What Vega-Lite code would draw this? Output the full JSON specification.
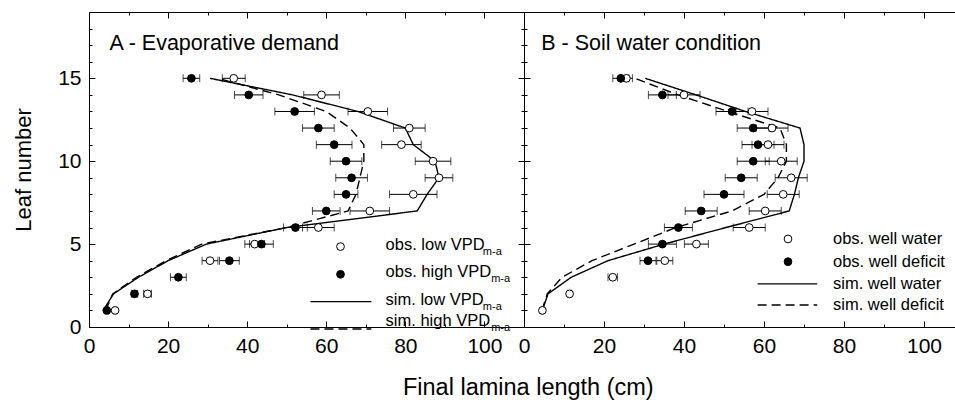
{
  "$schema": "https://vega.github.io/schema/vega-lite/v6.json",
  "background": "white",
  "padding": {"left": 12, "top": 11, "right": 0, "bottom": 5},
  "spacing": 0,
  "bounds": "flush",
  "title": {"text": "Final lamina length (cm)", "orient": "bottom", "anchor": "middle", "dx": 44, "fontSize": 23.5, "fontWeight": "normal", "font": "Liberation Sans", "color": "black", "offset": 20},
  "config": {
    "view": {"stroke": null},
    "font": "Liberation Sans",
    "axis": {"domainColor": "black", "tickColor": "black", "labelColor": "black", "titleColor": "black", "grid": false, "labelFont": "Liberation Sans", "labelFontSize": 21, "titleFont": "Liberation Sans", "titleFontSize": 22, "titleFontWeight": "normal", "tickWidth": 1, "domainWidth": 1, "labelFlush": false}
  },
  "datasets": {
    "obs": [
      {"panel": "A", "treat": "low VPD", "leaf": 15, "x": 36.6, "err": 2.9},
      {"panel": "A", "treat": "low VPD", "leaf": 14, "x": 58.8, "err": 4.5},
      {"panel": "A", "treat": "low VPD", "leaf": 13, "x": 70.5, "err": 5},
      {"panel": "A", "treat": "low VPD", "leaf": 12, "x": 81, "err": 4},
      {"panel": "A", "treat": "low VPD", "leaf": 11, "x": 79, "err": 5},
      {"panel": "A", "treat": "low VPD", "leaf": 10, "x": 87, "err": 4.5},
      {"panel": "A", "treat": "low VPD", "leaf": 9, "x": 88.5, "err": 3.5},
      {"panel": "A", "treat": "low VPD", "leaf": 8, "x": 82, "err": 6},
      {"panel": "A", "treat": "low VPD", "leaf": 7, "x": 71, "err": 5},
      {"panel": "A", "treat": "low VPD", "leaf": 6, "x": 58, "err": 4},
      {"panel": "A", "treat": "low VPD", "leaf": 5, "x": 41.9, "err": 2.5},
      {"panel": "A", "treat": "low VPD", "leaf": 4, "x": 30.6, "err": 2},
      {"panel": "A", "treat": "low VPD", "leaf": 2, "x": 14.8, "err": 1},
      {"panel": "A", "treat": "low VPD", "leaf": 1, "x": 6.6, "err": 0.4},
      {"panel": "A", "treat": "high VPD", "leaf": 15, "x": 25.9, "err": 2.1},
      {"panel": "A", "treat": "high VPD", "leaf": 14, "x": 40.4, "err": 3.6},
      {"panel": "A", "treat": "high VPD", "leaf": 13, "x": 52, "err": 5},
      {"panel": "A", "treat": "high VPD", "leaf": 12, "x": 58, "err": 4},
      {"panel": "A", "treat": "high VPD", "leaf": 11, "x": 62, "err": 4.5},
      {"panel": "A", "treat": "high VPD", "leaf": 10, "x": 65, "err": 4},
      {"panel": "A", "treat": "high VPD", "leaf": 9, "x": 66.4, "err": 4},
      {"panel": "A", "treat": "high VPD", "leaf": 8, "x": 65, "err": 3},
      {"panel": "A", "treat": "high VPD", "leaf": 7, "x": 60, "err": 3.5},
      {"panel": "A", "treat": "high VPD", "leaf": 6, "x": 52.2, "err": 3},
      {"panel": "A", "treat": "high VPD", "leaf": 5, "x": 43.6, "err": 3},
      {"panel": "A", "treat": "high VPD", "leaf": 4, "x": 35.5, "err": 2.5},
      {"panel": "A", "treat": "high VPD", "leaf": 3, "x": 22.6, "err": 2},
      {"panel": "A", "treat": "high VPD", "leaf": 2, "x": 11.5, "err": 0.8},
      {"panel": "A", "treat": "high VPD", "leaf": 1, "x": 4.5, "err": 0.4},
      {"panel": "B", "treat": "well water", "leaf": 15, "x": 25.6, "err": 1.5},
      {"panel": "B", "treat": "well water", "leaf": 14, "x": 40, "err": 4},
      {"panel": "B", "treat": "well water", "leaf": 13, "x": 57, "err": 4},
      {"panel": "B", "treat": "well water", "leaf": 12, "x": 62, "err": 4},
      {"panel": "B", "treat": "well water", "leaf": 11, "x": 61, "err": 4},
      {"panel": "B", "treat": "well water", "leaf": 10, "x": 64.3, "err": 4},
      {"panel": "B", "treat": "well water", "leaf": 9, "x": 66.8, "err": 4},
      {"panel": "B", "treat": "well water", "leaf": 8, "x": 64.8, "err": 4},
      {"panel": "B", "treat": "well water", "leaf": 7, "x": 60.3, "err": 4},
      {"panel": "B", "treat": "well water", "leaf": 6, "x": 56.3, "err": 4},
      {"panel": "B", "treat": "well water", "leaf": 5, "x": 43.1, "err": 3},
      {"panel": "B", "treat": "well water", "leaf": 4, "x": 35.2, "err": 2},
      {"panel": "B", "treat": "well water", "leaf": 3, "x": 22.2, "err": 1.2},
      {"panel": "B", "treat": "well water", "leaf": 2, "x": 11.4, "err": 0.5},
      {"panel": "B", "treat": "well water", "leaf": 1, "x": 4.6, "err": 0.3},
      {"panel": "B", "treat": "well deficit", "leaf": 15, "x": 24.2, "err": 2},
      {"panel": "B", "treat": "well deficit", "leaf": 14, "x": 34.6, "err": 3.5},
      {"panel": "B", "treat": "well deficit", "leaf": 13, "x": 52, "err": 4},
      {"panel": "B", "treat": "well deficit", "leaf": 12, "x": 57.3, "err": 4},
      {"panel": "B", "treat": "well deficit", "leaf": 11, "x": 58.5, "err": 4},
      {"panel": "B", "treat": "well deficit", "leaf": 10, "x": 57.3, "err": 4},
      {"panel": "B", "treat": "well deficit", "leaf": 9, "x": 54.3, "err": 4},
      {"panel": "B", "treat": "well deficit", "leaf": 8, "x": 50, "err": 5},
      {"panel": "B", "treat": "well deficit", "leaf": 7, "x": 44.3, "err": 4},
      {"panel": "B", "treat": "well deficit", "leaf": 6, "x": 38.6, "err": 3.5},
      {"panel": "B", "treat": "well deficit", "leaf": 5, "x": 34.6, "err": 3.5},
      {"panel": "B", "treat": "well deficit", "leaf": 4, "x": 31, "err": 2}
    ],
    "sim": [
      {"panel": "A", "treat": "low VPD", "leaf": 15, "x": 30.6},
      {"panel": "A", "treat": "low VPD", "leaf": 14, "x": 51.5},
      {"panel": "A", "treat": "low VPD", "leaf": 13, "x": 68},
      {"panel": "A", "treat": "low VPD", "leaf": 12, "x": 80},
      {"panel": "A", "treat": "low VPD", "leaf": 11, "x": 82},
      {"panel": "A", "treat": "low VPD", "leaf": 10, "x": 87.5},
      {"panel": "A", "treat": "low VPD", "leaf": 9, "x": 88.5},
      {"panel": "A", "treat": "low VPD", "leaf": 8, "x": 85.5},
      {"panel": "A", "treat": "low VPD", "leaf": 7, "x": 83},
      {"panel": "A", "treat": "low VPD", "leaf": 6, "x": 50},
      {"panel": "A", "treat": "low VPD", "leaf": 5, "x": 29.7},
      {"panel": "A", "treat": "low VPD", "leaf": 4, "x": 20},
      {"panel": "A", "treat": "low VPD", "leaf": 3, "x": 12.5},
      {"panel": "A", "treat": "low VPD", "leaf": 2, "x": 6.2},
      {"panel": "A", "treat": "low VPD", "leaf": 1, "x": 3.6},
      {"panel": "A", "treat": "high VPD", "leaf": 15, "x": 32.5},
      {"panel": "A", "treat": "high VPD", "leaf": 14, "x": 48},
      {"panel": "A", "treat": "high VPD", "leaf": 13, "x": 60},
      {"panel": "A", "treat": "high VPD", "leaf": 12, "x": 66},
      {"panel": "A", "treat": "high VPD", "leaf": 11, "x": 69.5},
      {"panel": "A", "treat": "high VPD", "leaf": 10, "x": 69.5},
      {"panel": "A", "treat": "high VPD", "leaf": 9, "x": 68.5},
      {"panel": "A", "treat": "high VPD", "leaf": 8, "x": 67.5},
      {"panel": "A", "treat": "high VPD", "leaf": 7, "x": 65.5},
      {"panel": "A", "treat": "high VPD", "leaf": 6, "x": 50},
      {"panel": "A", "treat": "high VPD", "leaf": 5, "x": 28.5},
      {"panel": "A", "treat": "high VPD", "leaf": 4, "x": 19.5},
      {"panel": "A", "treat": "high VPD", "leaf": 3, "x": 12},
      {"panel": "A", "treat": "high VPD", "leaf": 2, "x": 6},
      {"panel": "A", "treat": "high VPD", "leaf": 1, "x": 4.2},
      {"panel": "B", "treat": "well water", "leaf": 15, "x": 30.3},
      {"panel": "B", "treat": "well water", "leaf": 14, "x": 43},
      {"panel": "B", "treat": "well water", "leaf": 13, "x": 55.4},
      {"panel": "B", "treat": "well water", "leaf": 12, "x": 69},
      {"panel": "B", "treat": "well water", "leaf": 11, "x": 70},
      {"panel": "B", "treat": "well water", "leaf": 10, "x": 70},
      {"panel": "B", "treat": "well water", "leaf": 9, "x": 68.6},
      {"panel": "B", "treat": "well water", "leaf": 8, "x": 67.6},
      {"panel": "B", "treat": "well water", "leaf": 7, "x": 66.3},
      {"panel": "B", "treat": "well water", "leaf": 6, "x": 50.5},
      {"panel": "B", "treat": "well water", "leaf": 5, "x": 35},
      {"panel": "B", "treat": "well water", "leaf": 4, "x": 21},
      {"panel": "B", "treat": "well water", "leaf": 3, "x": 11.8},
      {"panel": "B", "treat": "well water", "leaf": 2, "x": 6},
      {"panel": "B", "treat": "well water", "leaf": 1, "x": 4.6},
      {"panel": "B", "treat": "well deficit", "leaf": 15, "x": 27.7},
      {"panel": "B", "treat": "well deficit", "leaf": 14, "x": 38.5},
      {"panel": "B", "treat": "well deficit", "leaf": 13, "x": 51},
      {"panel": "B", "treat": "well deficit", "leaf": 12, "x": 64},
      {"panel": "B", "treat": "well deficit", "leaf": 11, "x": 65.6},
      {"panel": "B", "treat": "well deficit", "leaf": 10, "x": 65.6},
      {"panel": "B", "treat": "well deficit", "leaf": 9, "x": 63.5},
      {"panel": "B", "treat": "well deficit", "leaf": 8, "x": 60},
      {"panel": "B", "treat": "well deficit", "leaf": 7, "x": 52},
      {"panel": "B", "treat": "well deficit", "leaf": 6, "x": 38},
      {"panel": "B", "treat": "well deficit", "leaf": 5, "x": 27.5},
      {"panel": "B", "treat": "well deficit", "leaf": 4, "x": 17},
      {"panel": "B", "treat": "well deficit", "leaf": 3, "x": 9.5},
      {"panel": "B", "treat": "well deficit", "leaf": 2, "x": 5.8},
      {"panel": "B", "treat": "well deficit", "leaf": 1, "x": 4.5}
    ],
    "legsym": [
      {"panel": "A", "treat": "low VPD", "x": 63.6, "y": 4.85},
      {"panel": "A", "treat": "high VPD", "x": 63.6, "y": 3.18},
      {"panel": "B", "treat": "well water", "x": 66, "y": 5.31},
      {"panel": "B", "treat": "well deficit", "x": 66, "y": 3.94}
    ],
    "legline": [
      {"panel": "A", "treat": "low VPD", "x": 56, "x2": 71.4, "y": 1.53},
      {"panel": "A", "treat": "high VPD", "x": 56, "x2": 71.4, "y": -0.12},
      {"panel": "B", "treat": "well water", "x": 58.4, "x2": 73.3, "y": 2.6},
      {"panel": "B", "treat": "well deficit", "x": 58.4, "x2": 73.3, "y": 1.33}
    ],
    "legtext": [
      {"panel": "A", "label": "obs. low VPD", "x": 75, "y": 4.95},
      {"panel": "A", "label": "obs. high VPD", "x": 75, "y": 3.34},
      {"panel": "A", "label": "sim. low VPD", "x": 75, "y": 1.63},
      {"panel": "A", "label": "sim. high VPD", "x": 75, "y": 0.38},
      {"panel": "B", "label": "obs. well water", "x": 77.25, "y": 5.31},
      {"panel": "B", "label": "obs. well deficit", "x": 77.25, "y": 3.94},
      {"panel": "B", "label": "sim. well water", "x": 77.25, "y": 2.6},
      {"panel": "B", "label": "sim. well deficit", "x": 77.25, "y": 1.33}
    ],
    "legsub": [
      {"panel": "A", "label": "m-a", "x": 99.6, "y": 4.95},
      {"panel": "A", "label": "m-a", "x": 101.7, "y": 3.34},
      {"panel": "A", "label": "m-a", "x": 99.6, "y": 1.63},
      {"panel": "A", "label": "m-a", "x": 101.7, "y": 0.38}
    ],
    "titles": [
      {"panel": "A", "label": "A - Evaporative demand", "x": 5.2, "y": 17.1},
      {"panel": "B", "label": "B - Soil water condition", "x": 4.3, "y": 17.1}
    ]
  },
  "hconcat": [
    {
      "width": 435,
      "height": 315,
      "resolve": {"axis": {"x": "independent", "y": "independent"}},
      "layer": [
        {
          "data": {"name": "obs"},
          "transform": [{"filter": "datum.panel === 'A'"}],
          "mark": {"type": "errorbar", "color": "black", "thickness": 1, "ticks": {"size": 8, "thickness": 1}},
          "encoding": {
            "x": {"field": "x", "type": "quantitative", "scale": {"domain": [0, 110], "nice": false, "zero": false}, "axis": null},
            "xError": {"field": "err"},
            "y": {"field": "leaf", "type": "quantitative", "scale": {"domain": [0, 19], "nice": false}, "axis": null}
          }
        },
        {
          "data": {"name": "sim"},
          "transform": [{"filter": "datum.panel === 'A'"}],
          "mark": {"type": "line", "color": "black", "strokeWidth": 1.4},
          "encoding": {
            "x": {"field": "x", "type": "quantitative", "scale": {"domain": [0, 110], "nice": false, "zero": false}, "axis": null},
            "y": {"field": "leaf", "type": "quantitative", "scale": {"domain": [0, 19], "nice": false}, "axis": null},
            "order": {"field": "leaf", "type": "quantitative"},
            "detail": {"field": "treat"},
            "strokeDash": {"field": "treat", "type": "nominal", "scale": {"domain": ["low VPD", "high VPD", "well water", "well deficit"], "range": [[1, 0], [9, 5], [1, 0], [9, 5]]}, "legend": null}
          }
        },
        {
          "data": {"name": "obs"},
          "transform": [{"filter": "datum.panel === 'A'"}],
          "mark": {"type": "point", "stroke": "black", "strokeWidth": 1, "size": 60, "opacity": 1},
          "encoding": {
            "x": {"field": "x", "type": "quantitative", "scale": {"domain": [0, 110], "nice": false, "zero": false},
              "axis": {"orient": "bottom", "title": null, "values": [0, 10, 20, 30, 40, 50, 60, 70, 80, 90, 100], "labelExpr": "datum.value % 20 === 0 ? datum.label : ''", "tickSize": {"condition": {"test": "datum.value % 20 === 0", "value": -6}, "value": -3}, "labelPadding": 14}},
            "y": {"field": "leaf", "type": "quantitative", "scale": {"domain": [0, 19], "nice": false},
              "axis": {"orient": "left", "title": "Leaf number", "titlePadding": 22, "values": [0, 1, 2, 3, 4, 5, 6, 7, 8, 9, 10, 11, 12, 13, 14, 15, 16, 17, 18, 19], "labelExpr": "datum.value % 5 === 0 ? datum.label : ''", "tickSize": {"condition": {"test": "datum.value % 5 === 0", "value": -6}, "value": -3}, "labelPadding": 14}},
            "fill": {"field": "treat", "type": "nominal", "scale": {"domain": ["low VPD", "high VPD", "well water", "well deficit"], "range": ["white", "black", "white", "black"]}, "legend": null},
            "order": {"field": "treat", "sort": "descending"}
          }
        },
        {
          "data": {"name": "legline"},
          "transform": [{"filter": "datum.panel === 'A'"}],
          "mark": {"type": "rule", "color": "black", "strokeWidth": 1.4},
          "encoding": {
            "x": {"field": "x", "type": "quantitative", "scale": {"domain": [0, 110], "nice": false, "zero": false}, "axis": null},
            "x2": {"field": "x2"},
            "y": {"field": "y", "type": "quantitative", "scale": {"domain": [0, 19], "nice": false}, "axis": null},
            "strokeDash": {"field": "treat", "type": "nominal", "scale": {"domain": ["low VPD", "high VPD", "well water", "well deficit"], "range": [[1, 0], [9, 5], [1, 0], [9, 5]]}, "legend": null}
          }
        },
        {
          "data": {"name": "legsym"},
          "transform": [{"filter": "datum.panel === 'A'"}],
          "mark": {"type": "point", "stroke": "black", "strokeWidth": 1, "size": 60, "opacity": 1},
          "encoding": {
            "x": {"field": "x", "type": "quantitative", "scale": {"domain": [0, 110], "nice": false, "zero": false}, "axis": null},
            "y": {"field": "y", "type": "quantitative", "scale": {"domain": [0, 19], "nice": false}, "axis": null},
            "fill": {"field": "treat", "type": "nominal", "scale": {"domain": ["low VPD", "high VPD", "well water", "well deficit"], "range": ["white", "black", "white", "black"]}, "legend": null}
          }
        },
        {
          "data": {"name": "legtext"},
          "transform": [{"filter": "datum.panel === 'A'"}],
          "mark": {"type": "text", "align": "left", "baseline": "middle", "fontSize": 16.5, "color": "black", "font": "Liberation Sans"},
          "encoding": {
            "x": {"field": "x", "type": "quantitative", "scale": {"domain": [0, 110], "nice": false, "zero": false}, "axis": null},
            "y": {"field": "y", "type": "quantitative", "scale": {"domain": [0, 19], "nice": false}, "axis": null},
            "text": {"field": "label"}
          }
        },
        {
          "data": {"name": "legsub"},
          "transform": [{"filter": "datum.panel === 'A'"}],
          "mark": {"type": "text", "align": "left", "baseline": "middle", "fontSize": 11, "dy": 7, "color": "black", "font": "Liberation Sans"},
          "encoding": {
            "x": {"field": "x", "type": "quantitative", "scale": {"domain": [0, 110], "nice": false, "zero": false}, "axis": null},
            "y": {"field": "y", "type": "quantitative", "scale": {"domain": [0, 19], "nice": false}, "axis": null},
            "text": {"field": "label"}
          }
        },
        {
          "data": {"name": "titles"},
          "transform": [{"filter": "datum.panel === 'A'"}],
          "mark": {"type": "text", "align": "left", "baseline": "middle", "fontSize": 21.5, "color": "black", "font": "Liberation Sans"},
          "encoding": {
            "x": {"field": "x", "type": "quantitative", "scale": {"domain": [0, 110], "nice": false, "zero": false},
              "axis": {"orient": "top", "title": null, "labels": false, "values": [0, 10, 20, 30, 40, 50, 60, 70, 80, 90, 100], "tickSize": {"condition": {"test": "datum.value % 20 === 0", "value": -6}, "value": -3}}},
            "y": {"field": "y", "type": "quantitative", "scale": {"domain": [0, 19], "nice": false},
              "axis": {"orient": "right", "title": null, "labels": false, "values": [0, 1, 2, 3, 4, 5, 6, 7, 8, 9, 10, 11, 12, 13, 14, 15, 16, 17, 18, 19], "tickSize": {"condition": {"test": "datum.value % 5 === 0", "value": -6}, "value": -3}}},
            "text": {"field": "label"}
          }
        }
      ]
    },
    {
      "width": 432,
      "height": 315,
      "resolve": {"axis": {"x": "independent", "y": "independent"}},
      "layer": [
        {
          "data": {"name": "obs"},
          "transform": [{"filter": "datum.panel === 'B'"}],
          "mark": {"type": "errorbar", "color": "black", "thickness": 1, "ticks": {"size": 8, "thickness": 1}},
          "encoding": {
            "x": {"field": "x", "type": "quantitative", "scale": {"domain": [0, 108], "nice": false, "zero": false}, "axis": null},
            "xError": {"field": "err"},
            "y": {"field": "leaf", "type": "quantitative", "scale": {"domain": [0, 19], "nice": false}, "axis": null}
          }
        },
        {
          "data": {"name": "sim"},
          "transform": [{"filter": "datum.panel === 'B'"}],
          "mark": {"type": "line", "color": "black", "strokeWidth": 1.4},
          "encoding": {
            "x": {"field": "x", "type": "quantitative", "scale": {"domain": [0, 108], "nice": false, "zero": false}, "axis": null},
            "y": {"field": "leaf", "type": "quantitative", "scale": {"domain": [0, 19], "nice": false}, "axis": null},
            "order": {"field": "leaf", "type": "quantitative"},
            "detail": {"field": "treat"},
            "strokeDash": {"field": "treat", "type": "nominal", "scale": {"domain": ["low VPD", "high VPD", "well water", "well deficit"], "range": [[1, 0], [9, 5], [1, 0], [9, 5]]}, "legend": null}
          }
        },
        {
          "data": {"name": "obs"},
          "transform": [{"filter": "datum.panel === 'B'"}],
          "mark": {"type": "point", "stroke": "black", "strokeWidth": 1, "size": 60, "opacity": 1},
          "encoding": {
            "x": {"field": "x", "type": "quantitative", "scale": {"domain": [0, 108], "nice": false, "zero": false},
              "axis": {"orient": "bottom", "title": null, "values": [0, 10, 20, 30, 40, 50, 60, 70, 80, 90, 100], "labelExpr": "datum.value % 20 === 0 ? datum.label : ''", "tickSize": {"condition": {"test": "datum.value % 20 === 0", "value": -6}, "value": -3}, "labelPadding": 14}},
            "y": {"field": "leaf", "type": "quantitative", "scale": {"domain": [0, 19], "nice": false},
              "axis": {"orient": "left", "title": null, "labels": false, "values": [0, 1, 2, 3, 4, 5, 6, 7, 8, 9, 10, 11, 12, 13, 14, 15, 16, 17, 18, 19], "tickSize": {"condition": {"test": "datum.value % 5 === 0", "value": -6}, "value": -3}}},
            "fill": {"field": "treat", "type": "nominal", "scale": {"domain": ["low VPD", "high VPD", "well water", "well deficit"], "range": ["white", "black", "white", "black"]}, "legend": null},
            "order": {"field": "treat", "sort": "descending"}
          }
        },
        {
          "data": {"name": "legline"},
          "transform": [{"filter": "datum.panel === 'B'"}],
          "mark": {"type": "rule", "color": "black", "strokeWidth": 1.4},
          "encoding": {
            "x": {"field": "x", "type": "quantitative", "scale": {"domain": [0, 108], "nice": false, "zero": false}, "axis": null},
            "x2": {"field": "x2"},
            "y": {"field": "y", "type": "quantitative", "scale": {"domain": [0, 19], "nice": false}, "axis": null},
            "strokeDash": {"field": "treat", "type": "nominal", "scale": {"domain": ["low VPD", "high VPD", "well water", "well deficit"], "range": [[1, 0], [9, 5], [1, 0], [9, 5]]}, "legend": null}
          }
        },
        {
          "data": {"name": "legsym"},
          "transform": [{"filter": "datum.panel === 'B'"}],
          "mark": {"type": "point", "stroke": "black", "strokeWidth": 1, "size": 60, "opacity": 1},
          "encoding": {
            "x": {"field": "x", "type": "quantitative", "scale": {"domain": [0, 108], "nice": false, "zero": false}, "axis": null},
            "y": {"field": "y", "type": "quantitative", "scale": {"domain": [0, 19], "nice": false}, "axis": null},
            "fill": {"field": "treat", "type": "nominal", "scale": {"domain": ["low VPD", "high VPD", "well water", "well deficit"], "range": ["white", "black", "white", "black"]}, "legend": null}
          }
        },
        {
          "data": {"name": "legtext"},
          "transform": [{"filter": "datum.panel === 'B'"}],
          "mark": {"type": "text", "align": "left", "baseline": "middle", "fontSize": 16.5, "color": "black", "font": "Liberation Sans"},
          "encoding": {
            "x": {"field": "x", "type": "quantitative", "scale": {"domain": [0, 108], "nice": false, "zero": false}, "axis": null},
            "y": {"field": "y", "type": "quantitative", "scale": {"domain": [0, 19], "nice": false}, "axis": null},
            "text": {"field": "label"}
          }
        },
        {
          "data": {"name": "titles"},
          "transform": [{"filter": "datum.panel === 'B'"}],
          "mark": {"type": "text", "align": "left", "baseline": "middle", "fontSize": 21.5, "color": "black", "font": "Liberation Sans"},
          "encoding": {
            "x": {"field": "x", "type": "quantitative", "scale": {"domain": [0, 108], "nice": false, "zero": false},
              "axis": {"orient": "top", "title": null, "labels": false, "values": [0, 10, 20, 30, 40, 50, 60, 70, 80, 90, 100], "tickSize": {"condition": {"test": "datum.value % 20 === 0", "value": -6}, "value": -3}}},
            "y": {"field": "y", "type": "quantitative", "scale": {"domain": [0, 19], "nice": false}, "axis": null},
            "text": {"field": "label"}
          }
        }
      ]
    }
  ]
}
